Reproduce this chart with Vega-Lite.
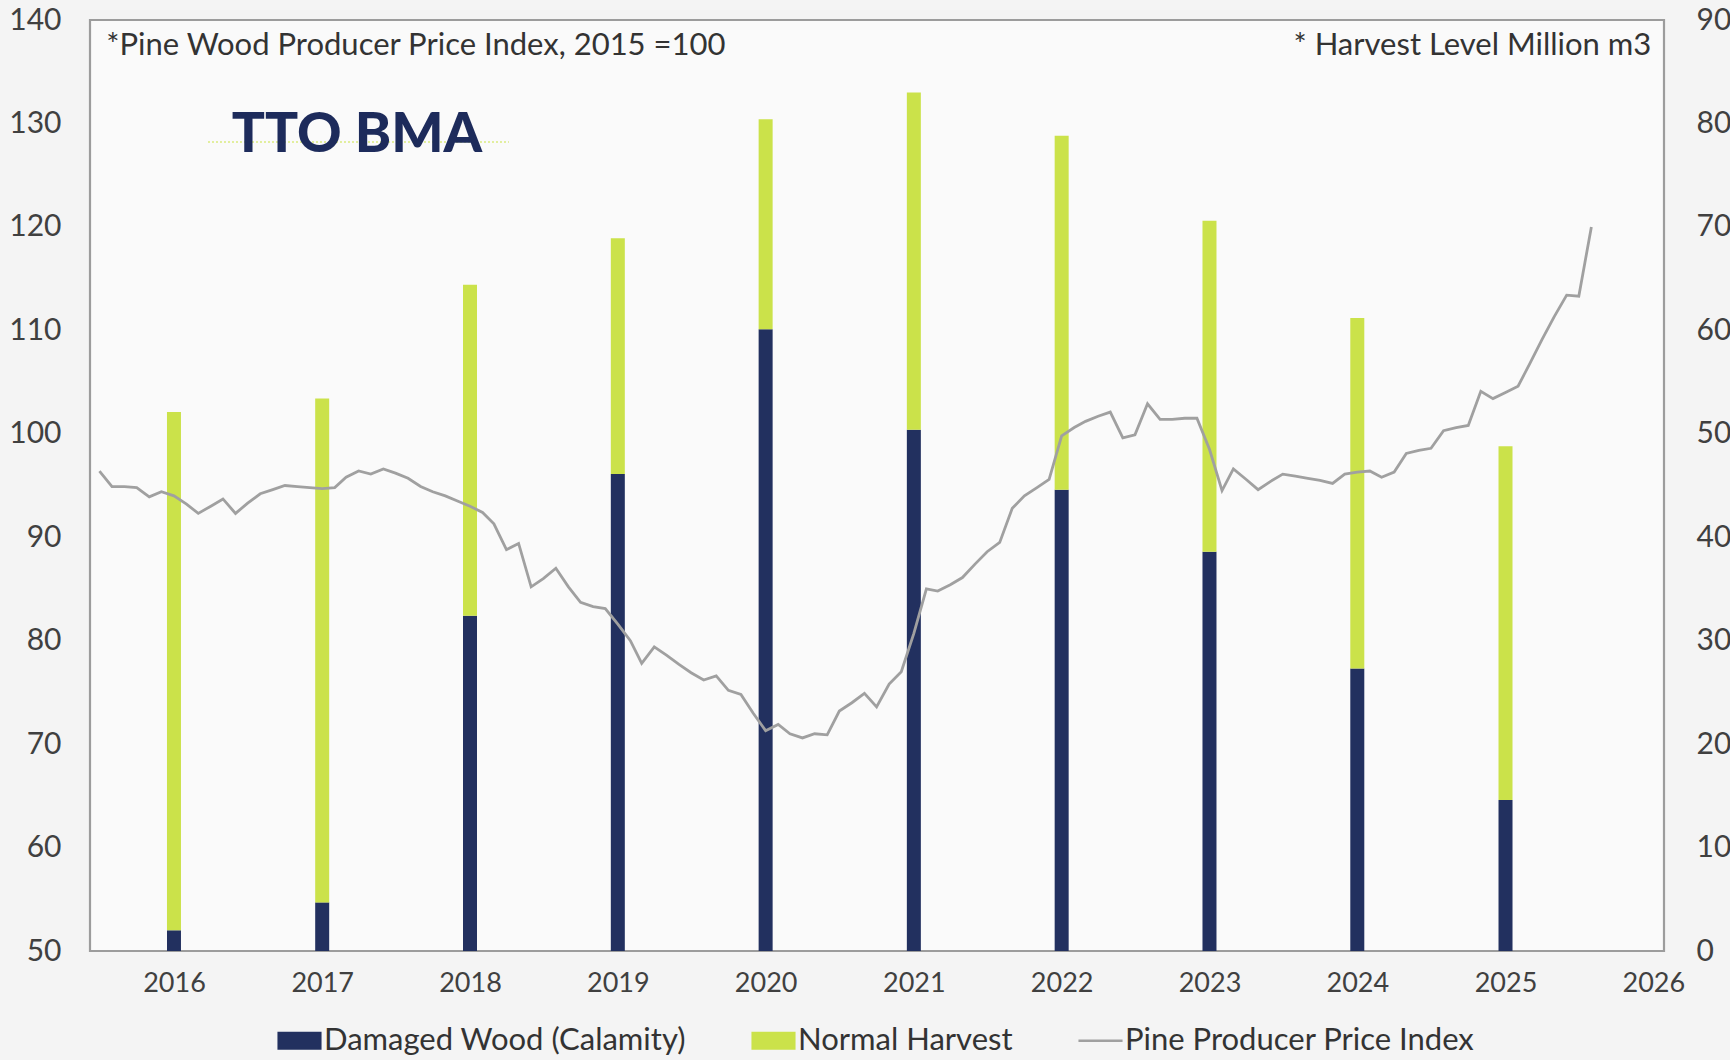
{
  "$schema": "https://vega.github.io/schema/vega-lite/v6.json",
  "width": 1574,
  "height": 931,
  "autosize": {"type": "none"},
  "padding": {"left": 90, "top": 20, "right": 66, "bottom": 109},
  "background": "#f4f4f4",
  "config": {
    "view": {"stroke": "#9c9c9c", "strokeWidth": 2.2, "fill": "#fafafa"},
    "font": "Lato",
    "axis": {"grid": false, "ticks": false, "domain": false, "labelFont": "Lato", "labelColor": "#404040", "title": null}
  },
  "layer": [
    {
      "data": {"values": [
        {"year": "2016-01-01", "series": "Damaged Wood (Calamity)", "order": 1, "value": 2.0},
        {"year": "2016-01-01", "series": "Normal Harvest", "order": 2, "value": 50.1},
        {"year": "2017-01-01", "series": "Damaged Wood (Calamity)", "order": 1, "value": 4.7},
        {"year": "2017-01-01", "series": "Normal Harvest", "order": 2, "value": 48.7},
        {"year": "2018-01-01", "series": "Damaged Wood (Calamity)", "order": 1, "value": 32.4},
        {"year": "2018-01-01", "series": "Normal Harvest", "order": 2, "value": 32.0},
        {"year": "2019-01-01", "series": "Damaged Wood (Calamity)", "order": 1, "value": 46.1},
        {"year": "2019-01-01", "series": "Normal Harvest", "order": 2, "value": 22.8},
        {"year": "2020-01-01", "series": "Damaged Wood (Calamity)", "order": 1, "value": 60.1},
        {"year": "2020-01-01", "series": "Normal Harvest", "order": 2, "value": 20.3},
        {"year": "2021-01-01", "series": "Damaged Wood (Calamity)", "order": 1, "value": 50.4},
        {"year": "2021-01-01", "series": "Normal Harvest", "order": 2, "value": 32.6},
        {"year": "2022-01-01", "series": "Damaged Wood (Calamity)", "order": 1, "value": 44.6},
        {"year": "2022-01-01", "series": "Normal Harvest", "order": 2, "value": 34.2},
        {"year": "2023-01-01", "series": "Damaged Wood (Calamity)", "order": 1, "value": 38.6},
        {"year": "2023-01-01", "series": "Normal Harvest", "order": 2, "value": 32.0},
        {"year": "2024-01-01", "series": "Damaged Wood (Calamity)", "order": 1, "value": 27.3},
        {"year": "2024-01-01", "series": "Normal Harvest", "order": 2, "value": 33.9},
        {"year": "2025-01-01", "series": "Damaged Wood (Calamity)", "order": 1, "value": 14.6},
        {"year": "2025-01-01", "series": "Normal Harvest", "order": 2, "value": 34.2}
      ]},
      "mark": {"type": "bar", "width": 14},
      "encoding": {
        "x": {
          "field": "year", "type": "temporal",
          "scale": {"type": "utc", "domain": [{"year": 2015, "month": 6, "date": 20, "utc": true}, {"year": 2026, "month": 1, "date": 15, "utc": true}]},
          "axis": {
            "values": [{"year": 2016, "utc": true}, {"year": 2017, "utc": true}, {"year": 2018, "utc": true}, {"year": 2019, "utc": true}, {"year": 2020, "utc": true}, {"year": 2021, "utc": true}, {"year": 2022, "utc": true}, {"year": 2023, "utc": true}, {"year": 2024, "utc": true}, {"year": 2025, "utc": true}, {"year": 2026, "utc": true}],
            "format": "%Y", "formatType": "utc", "labelFontSize": 27, "labelPadding": 19, "title": null, "labelOverlap": false, "labelFlush": false
          }
        },
        "y": {
          "field": "value", "type": "quantitative", "stack": "zero",
          "scale": {"domain": [0, 90], "nice": false},
          "axis": {"orient": "right", "values": [0, 10, 20, 30, 40, 50, 60, 70, 80, 90], "labelFontSize": 30, "labelPadding": 32, "title": null}
        },
        "color": {
          "field": "series", "type": "nominal",
          "scale": {"domain": ["Damaged Wood (Calamity)", "Normal Harvest", "Pine Producer Price Index"], "range": ["#22305f", "#cbe24a", "#a0a0a0"]},
          "legend": {
            "orient": "none", "legendX": 194, "legendY": 1005, "direction": "horizontal", "columns": 3,
            "title": null, "labelFont": "Lato", "labelFontSize": 31, "labelColor": "#333333", "labelLimit": 0,
            "symbolSize": 324, "labelOffset": 9, "columnPadding": 65,
            "encode": {
              "symbols": {
                "update": {
                  "shape": {"signal": "datum.value === 'Pine Producer Price Index' ? 'M-2.45,-0.13H2.45V0.13H-2.45Z' : 'M-2.45,-1H2.45V1H-2.45Z'"},
                  "fill": {"scale": "color", "field": "value"},
                  "stroke": {"value": "transparent"},
                  "strokeWidth": {"value": 0},
                  "opacity": {"value": 1}
                }
              }
            }
          }
        },
        "order": {"field": "order", "type": "quantitative"}
      }
    },
    {
      "layer": [
        {
          "data": {"values": [
            {"date": "2015-07-01", "ppi": 96.4}, {"date": "2015-08-01", "ppi": 94.9}, {"date": "2015-09-01", "ppi": 94.9}, {"date": "2015-10-01", "ppi": 94.8},
            {"date": "2015-11-01", "ppi": 93.9}, {"date": "2015-12-01", "ppi": 94.4},
            {"date": "2016-01-01", "ppi": 94.0}, {"date": "2016-02-01", "ppi": 93.2}, {"date": "2016-03-01", "ppi": 92.3}, {"date": "2016-04-01", "ppi": 93.0},
            {"date": "2016-05-01", "ppi": 93.7}, {"date": "2016-06-01", "ppi": 92.3}, {"date": "2016-07-01", "ppi": 93.3}, {"date": "2016-08-01", "ppi": 94.2},
            {"date": "2016-09-01", "ppi": 94.6}, {"date": "2016-10-01", "ppi": 95.0}, {"date": "2016-11-01", "ppi": 94.9}, {"date": "2016-12-01", "ppi": 94.8},
            {"date": "2017-01-01", "ppi": 94.7}, {"date": "2017-02-01", "ppi": 94.8}, {"date": "2017-03-01", "ppi": 95.8}, {"date": "2017-04-01", "ppi": 96.4},
            {"date": "2017-05-01", "ppi": 96.1}, {"date": "2017-06-01", "ppi": 96.6}, {"date": "2017-07-01", "ppi": 96.2}, {"date": "2017-08-01", "ppi": 95.7},
            {"date": "2017-09-01", "ppi": 94.9}, {"date": "2017-10-01", "ppi": 94.4}, {"date": "2017-11-01", "ppi": 94.0}, {"date": "2017-12-01", "ppi": 93.5},
            {"date": "2018-01-01", "ppi": 93.0}, {"date": "2018-02-01", "ppi": 92.4}, {"date": "2018-03-01", "ppi": 91.3}, {"date": "2018-04-01", "ppi": 88.8},
            {"date": "2018-05-01", "ppi": 89.4}, {"date": "2018-06-01", "ppi": 85.2}, {"date": "2018-07-01", "ppi": 86.0}, {"date": "2018-08-01", "ppi": 87.0},
            {"date": "2018-09-01", "ppi": 85.2}, {"date": "2018-10-01", "ppi": 83.7}, {"date": "2018-11-01", "ppi": 83.3}, {"date": "2018-12-01", "ppi": 83.1},
            {"date": "2019-01-01", "ppi": 81.6}, {"date": "2019-02-01", "ppi": 80.0}, {"date": "2019-03-01", "ppi": 77.8}, {"date": "2019-04-01", "ppi": 79.4},
            {"date": "2019-05-01", "ppi": 78.6}, {"date": "2019-06-01", "ppi": 77.7}, {"date": "2019-07-01", "ppi": 76.9}, {"date": "2019-08-01", "ppi": 76.2},
            {"date": "2019-09-01", "ppi": 76.6}, {"date": "2019-10-01", "ppi": 75.2}, {"date": "2019-11-01", "ppi": 74.8}, {"date": "2019-12-01", "ppi": 73.0},
            {"date": "2020-01-01", "ppi": 71.3}, {"date": "2020-02-01", "ppi": 71.9}, {"date": "2020-03-01", "ppi": 71.0}, {"date": "2020-04-01", "ppi": 70.6},
            {"date": "2020-05-01", "ppi": 71.0}, {"date": "2020-06-01", "ppi": 70.9}, {"date": "2020-07-01", "ppi": 73.2}, {"date": "2020-08-01", "ppi": 74.0},
            {"date": "2020-09-01", "ppi": 74.9}, {"date": "2020-10-01", "ppi": 73.6}, {"date": "2020-11-01", "ppi": 75.8}, {"date": "2020-12-01", "ppi": 77.0},
            {"date": "2021-01-01", "ppi": 80.7}, {"date": "2021-02-01", "ppi": 85.0}, {"date": "2021-03-01", "ppi": 84.8}, {"date": "2021-04-01", "ppi": 85.4},
            {"date": "2021-05-01", "ppi": 86.1}, {"date": "2021-06-01", "ppi": 87.4}, {"date": "2021-07-01", "ppi": 88.6}, {"date": "2021-08-01", "ppi": 89.5},
            {"date": "2021-09-01", "ppi": 92.8}, {"date": "2021-10-01", "ppi": 94.0}, {"date": "2021-11-01", "ppi": 94.8}, {"date": "2021-12-01", "ppi": 95.6},
            {"date": "2022-01-01", "ppi": 99.8}, {"date": "2022-02-01", "ppi": 100.6}, {"date": "2022-03-01", "ppi": 101.2}, {"date": "2022-04-01", "ppi": 101.7},
            {"date": "2022-05-01", "ppi": 102.1}, {"date": "2022-06-01", "ppi": 99.6}, {"date": "2022-07-01", "ppi": 99.9}, {"date": "2022-08-01", "ppi": 102.9},
            {"date": "2022-09-01", "ppi": 101.4}, {"date": "2022-10-01", "ppi": 101.4}, {"date": "2022-11-01", "ppi": 101.5}, {"date": "2022-12-01", "ppi": 101.5},
            {"date": "2023-01-01", "ppi": 98.5}, {"date": "2023-02-01", "ppi": 94.5}, {"date": "2023-03-01", "ppi": 96.6}, {"date": "2023-04-01", "ppi": 95.6},
            {"date": "2023-05-01", "ppi": 94.6}, {"date": "2023-06-01", "ppi": 95.4}, {"date": "2023-07-01", "ppi": 96.1}, {"date": "2023-08-01", "ppi": 95.9},
            {"date": "2023-09-01", "ppi": 95.7}, {"date": "2023-10-01", "ppi": 95.5}, {"date": "2023-11-01", "ppi": 95.2}, {"date": "2023-12-01", "ppi": 96.1},
            {"date": "2024-01-01", "ppi": 96.3}, {"date": "2024-02-01", "ppi": 96.4}, {"date": "2024-03-01", "ppi": 95.8}, {"date": "2024-04-01", "ppi": 96.3},
            {"date": "2024-05-01", "ppi": 98.1}, {"date": "2024-06-01", "ppi": 98.4}, {"date": "2024-07-01", "ppi": 98.6}, {"date": "2024-08-01", "ppi": 100.3},
            {"date": "2024-09-01", "ppi": 100.6}, {"date": "2024-10-01", "ppi": 100.8}, {"date": "2024-11-01", "ppi": 104.1}, {"date": "2024-12-01", "ppi": 103.4},
            {"date": "2025-01-01", "ppi": 104.0}, {"date": "2025-02-01", "ppi": 104.6}, {"date": "2025-03-01", "ppi": 106.7}, {"date": "2025-04-01", "ppi": 109.1},
            {"date": "2025-05-01", "ppi": 111.3}, {"date": "2025-06-01", "ppi": 113.4}, {"date": "2025-07-01", "ppi": 113.3}, {"date": "2025-08-01", "ppi": 120.0}
          ]},
          "mark": {"type": "line", "strokeWidth": 2.8, "interpolate": "linear"},
          "encoding": {
            "x": {
              "field": "date", "type": "temporal",
              "scale": {"type": "utc", "domain": [{"year": 2015, "month": 6, "date": 20, "utc": true}, {"year": 2026, "month": 1, "date": 15, "utc": true}]},
              "axis": {
                "values": [{"year": 2016, "utc": true}, {"year": 2017, "utc": true}, {"year": 2018, "utc": true}, {"year": 2019, "utc": true}, {"year": 2020, "utc": true}, {"year": 2021, "utc": true}, {"year": 2022, "utc": true}, {"year": 2023, "utc": true}, {"year": 2024, "utc": true}, {"year": 2025, "utc": true}, {"year": 2026, "utc": true}],
                "format": "%Y", "formatType": "utc", "labelFontSize": 27, "labelPadding": 19, "title": null, "labelOverlap": false, "labelFlush": false
              }
            },
            "y": {
              "field": "ppi", "type": "quantitative",
              "scale": {"domain": [50, 140], "nice": false},
              "axis": {"orient": "left", "values": [50, 60, 70, 80, 90, 100, 110, 120, 130, 140], "labelFontSize": 30, "labelPadding": 29, "title": null}
            },
            "color": {"datum": "Pine Producer Price Index", "type": "nominal"}
          }
        },
        {
          "data": {"values": [{}]},
          "mark": {"type": "text", "align": "left", "baseline": "middle", "fontSize": 31, "font": "Lato", "color": "#333333"},
          "encoding": {
            "x": {"datum": {"year": 2015, "month": 7, "date": 18, "utc": true}, "type": "temporal"},
            "y": {"datum": 137.45, "type": "quantitative", "scale": {"domain": [50, 140], "nice": false}},
            "text": {"value": "*Pine Wood Producer Price Index, 2015 =100"}
          }
        },
        {
          "data": {"values": [{}]},
          "mark": {"type": "text", "align": "right", "baseline": "middle", "fontSize": 31, "font": "Lato", "color": "#333333"},
          "encoding": {
            "x": {"datum": {"year": 2025, "month": 12, "date": 27, "utc": true}, "type": "temporal"},
            "y": {"datum": 137.45, "type": "quantitative", "scale": {"domain": [50, 140], "nice": false}},
            "text": {"value": "* Harvest Level Million m3"}
          }
        },
        {
          "data": {"values": [{}]},
          "mark": {"type": "rule", "color": "#cbe24a", "strokeWidth": 1.5, "opacity": 0.7, "strokeDash": [2, 2]},
          "encoding": {
            "x": {"datum": {"year": 2016, "month": 3, "date": 25, "utc": true}, "type": "temporal"},
            "x2": {"datum": {"year": 2018, "month": 4, "date": 7, "utc": true}},
            "y": {"datum": 128.2, "type": "quantitative", "scale": {"domain": [50, 140], "nice": false}}
          }
        },
        {
          "data": {"values": [{}]},
          "mark": {"type": "text", "align": "center", "baseline": "middle", "fontSize": 55, "font": "Lato", "fontWeight": 900, "color": "#1d2b5b"},
          "encoding": {
            "x": {"datum": {"year": 2017, "month": 3, "date": 28, "utc": true}, "type": "temporal"},
            "y": {"datum": 128.9, "type": "quantitative", "scale": {"domain": [50, 140], "nice": false}},
            "text": {"value": "TTO BMA"}
          }
        }
      ]
    }
  ],
  "resolve": {"scale": {"y": "independent"}}
}
